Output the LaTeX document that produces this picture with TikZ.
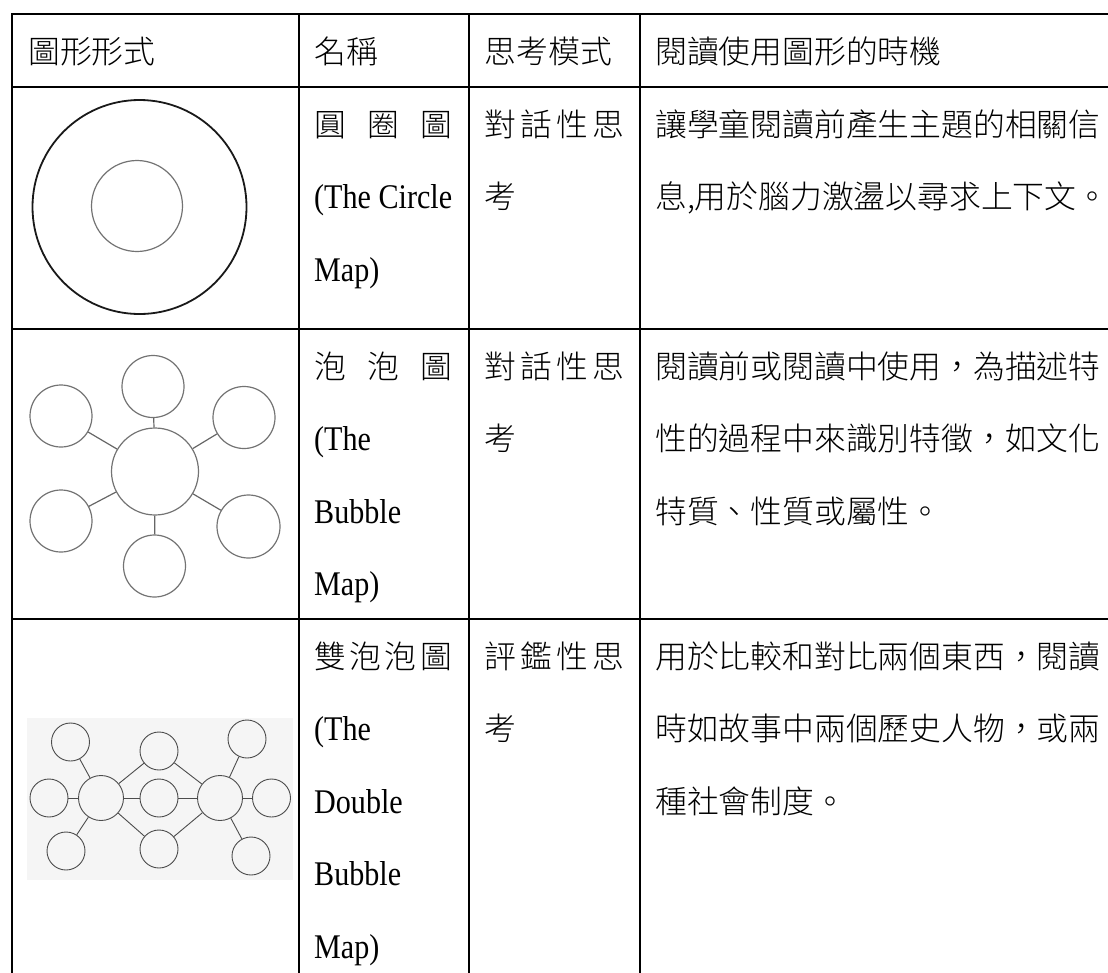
\documentclass[tikz,border=0pt]{standalone}
\usepackage{fontspec}
\setmainfont{Liberation Serif}
\newfontfamily\twfont{Noto Sans CJK TC Light}
\newfontfamily\enfont[FakeStretch=0.87]{Liberation Serif}
\tikzstyle{table rule} = [line width=2.8pt, line cap=rect]
\tikzstyle{zh} = [anchor=base west, inner sep=0pt, font=\twfont\fontsize{31.8}{38}\selectfont]
\tikzstyle{en} = [anchor=base west, inner sep=0pt, font=\enfont\fontsize{34.6}{40}\selectfont]
\tikzstyle{bubble} = [circle, draw=black!55, line width=1.2pt, inner sep=0pt]
\tikzstyle{spoke} = [draw=black!60, line width=1.2pt]
\tikzstyle{dbubble} = [circle, draw=black!70, line width=0.9pt, inner sep=0pt]
\tikzstyle{dspoke} = [draw=black!70, line width=0.9pt]
\newcommand{\spread}[2]{\makebox[#1][s]{#2}}

\begin{document}
\begin{tikzpicture}[x=1pt,y=-1pt]
    \useasboundingbox (0,0) rectangle (1108,972);

    % header
    \node[zh] (h1) at (28,63) {圖形形式};
    \node[zh] (h2) at (314,63) {名稱};
    \node[zh] (h3) at (484.6,63) {思考模式};
    \node[zh] (h4) at (655,63) {閱讀使用圖形的時機};

    % circle map
    \node[circle, draw=black!90, line width=1.8pt, inner sep=0pt, minimum size=214pt] (cout) at (139.5,207) {};
    \node[bubble, minimum size=91pt] (cin) at (137,206) {};
    \node[zh] (n1a) at (314,136) {\spread{138pt}{圓\hfill 圈\hfill 圖}};
    \node[en] (n1b) at (314,208.5) {(The Circle};
    \node[en] (n1c) at (314,281) {Map)};
    \node[zh] (t1a) at (484.6,136) {\spread{140pt}{對\hfill 話\hfill 性\hfill 思}};
    \node[zh] (t1b) at (484.6,208.5) {考};
    \node[zh] (u1a) at (655,136) {讓學童閱讀前產生主題的相關信};
    \node[zh] (u1b) at (655,208.5) {息,用於腦力激盪以尋求上下文。};

    % bubble map
    \node[bubble, minimum size=87pt] (bc) at (155,471.5) {};
    \node[bubble, minimum size=62pt] (bt) at (153,386.5) {};
    \node[bubble, minimum size=62pt] (bb) at (154.5,566) {};
    \node[bubble, minimum size=62pt] (bul) at (61,416) {};
    \node[bubble, minimum size=62pt] (bur) at (244,417.5) {};
    \node[bubble, minimum size=62pt] (bll) at (61,521) {};
    \node[bubble, minimum size=63pt] (blr) at (248.5,526.5) {};
    \foreach \n in {bt,bur,blr,bb,bll,bul}
     \draw[spoke] (bc) -- (\n);
    \node[zh] (n2a) at (314,378) {\spread{138pt}{泡\hfill 泡\hfill 圖}};
    \node[en] (n2b) at (314,450.5) {(The};
    \node[en] (n2c) at (314,523) {Bubble};
    \node[en] (n2d) at (314,595.5) {Map)};
    \node[zh] (t2a) at (484.6,378) {\spread{140pt}{對\hfill 話\hfill 性\hfill 思}};
    \node[zh] (t2b) at (484.6,450.5) {考};
    \node[zh] (u2a) at (655,378) {閱讀前或閱讀中使用，為描述特};
    \node[zh] (u2b) at (655,450.5) {性的過程中來識別特徵，如文化};
    \node[zh] (u2c) at (655,523) {特質、性質或屬性。};

    % double bubble map
    \fill[black!4] (26.7,718) rectangle (293,880);
    \node[dbubble, minimum size=45pt] (dl) at (101,798) {};
    \node[dbubble, minimum size=45pt] (dr) at (220,798) {};
    \node[dbubble, minimum size=38pt] (dlt) at (70.5,742) {};
    \node[dbubble, minimum size=38pt] (dll) at (49,798) {};
    \node[dbubble, minimum size=38pt] (dlb) at (66,851) {};
    \node[dbubble, minimum size=38pt] (dmt) at (159,751) {};
    \node[dbubble, minimum size=38pt] (dmm) at (159,798) {};
    \node[dbubble, minimum size=38pt] (dmb) at (159,849) {};
    \node[dbubble, minimum size=38pt] (drt) at (247,739) {};
    \node[dbubble, minimum size=38pt] (drr) at (271.5,798) {};
    \node[dbubble, minimum size=38pt] (drb) at (251,856) {};
    \foreach \n in {dlt,dll,dlb,dmt,dmm,dmb}
     \draw[dspoke] (dl) -- (\n);
    \foreach \n in {dmt,dmm,dmb,drt,drr,drb}
     \draw[dspoke] (dr) -- (\n);
    \node[zh] (n3a) at (314,668) {\spread{138pt}{雙\hfill 泡\hfill 泡\hfill 圖}};
    \node[en] (n3b) at (314,740.5) {(The};
    \node[en] (n3c) at (314,813) {Double};
    \node[en] (n3d) at (314,885.5) {Bubble};
    \node[en] (n3e) at (314,958) {Map)};
    \node[zh] (t3a) at (484.6,668) {\spread{140pt}{評\hfill 鑑\hfill 性\hfill 思}};
    \node[zh] (t3b) at (484.6,740.5) {考};
    \node[zh] (u3a) at (655,668) {用於比較和對比兩個東西，閱讀};
    \node[zh] (u3b) at (655,740.5) {時如故事中兩個歷史人物，或兩};
    \node[zh] (u3c) at (655,813) {種社會制度。};

    % table rules
    \foreach \y in {14,87,329,619}
     \draw[table rule] (12,\y) -- (1108,\y);
    \foreach \x in {12,299,469,640}
     \draw[table rule] (\x,14) -- (\x,972);
\end{tikzpicture}
\end{document}
